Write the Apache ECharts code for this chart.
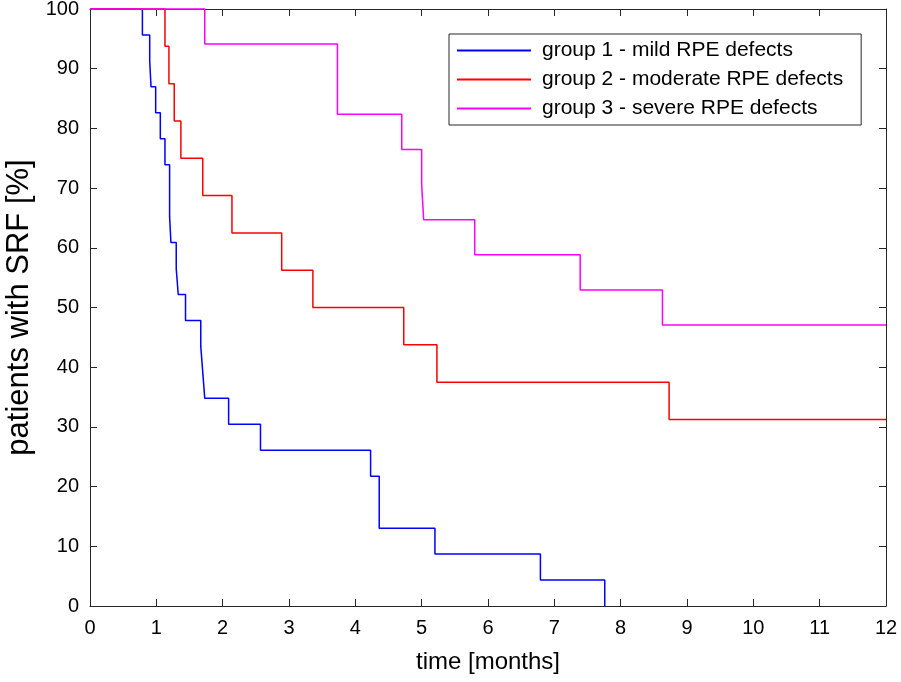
<!DOCTYPE html>
<html>
<head>
<meta charset="utf-8">
<script src="https://cdn.jsdelivr.net/npm/echarts@6/dist/echarts.min.js"></script>
<style>
html,body{margin:0;padding:0;background:#fff;}
#chart{width:901px;height:682px;}
</style>
</head>
<body>
<div id="chart"></div>
<script>
const seriesNames = ['group 1 - mild RPE defects', 'group 2 - moderate RPE defects', 'group 3 - severe RPE defects'];
const group1Times = [0, 0.79, 0.90, 0.92, 0.99, 1.06, 1.13, 1.20, 1.22, 1.30, 1.33, 1.44, 1.67, 1.70, 1.73, 2.09, 2.57, 4.23, 4.36, 5.20, 6.79, 7.76];
const group1Values = [100, 95.65, 91.30, 86.96, 82.61, 78.26, 73.91, 65.22, 60.87, 56.52, 52.17, 47.83, 43.48, 39.13, 34.78, 30.43, 26.09, 21.74, 13.04, 8.70, 4.35, 0];
const group2Times = [0, 1.13, 1.19, 1.27, 1.37, 1.70, 2.14, 2.89, 3.36, 4.73, 5.23, 8.73, 12];
const group2Values = [100, 93.75, 87.5, 81.25, 75, 68.75, 62.5, 56.25, 50, 43.75, 37.5, 31.25, 31.25];
const group3Times = [0, 1.73, 3.73, 4.70, 5.00, 5.03, 5.80, 7.39, 8.63, 12];
const group3Values = [100, 94.12, 82.35, 76.47, 70.59, 64.71, 58.82, 52.94, 47.06, 47.06];
const colors = ['#0000ff', '#ff0000', '#ff00ff'];

function pairs(t, v) { return t.map((x, i) => [x, v[i]]); }

const axisColor = '#262626';
const font = 'Liberation Sans, Arial, sans-serif';

const chart = echarts.init(document.getElementById('chart'));
const groups = [[group1Times, group1Values], [group2Times, group2Values], [group3Times, group3Values]];

chart.setOption({
  animation: false,
  backgroundColor: '#fff',
  grid: { left: 90, right: 15, top: 9, bottom: 76, containLabel: false, outerBoundsMode: 'none' },
  legend: {
    orient: 'vertical',
    left: 449, top: 34,
    data: seriesNames,
    icon: 'rect',
    itemWidth: 74, itemHeight: 2,
    itemGap: 8,
    padding: [6, 18, 6, 8],
    borderColor: axisColor, borderWidth: 1,
    backgroundColor: '#fff',
    textStyle: { fontFamily: font, fontSize: 21, color: '#000', padding: [0, 0, 0, 6] }
  },
  xAxis: [{
    type: 'value', min: 0, max: 12, interval: 1,
    name: 'time [months]', nameLocation: 'middle', nameGap: 44,
    nameTextStyle: { fontFamily: font, fontSize: 24, color: '#000' },
    axisLine: { show: true, onZero: false, lineStyle: { color: axisColor, width: 1 } },
    axisTick: { show: true, inside: true, length: 7, lineStyle: { color: axisColor } },
    axisLabel: { fontFamily: font, fontSize: 20, color: '#000', margin: 12 },
    splitLine: { show: false }
  }, {
    type: 'value', min: 0, max: 12, interval: 1, position: 'top',
    axisLine: { show: true, onZero: false, lineStyle: { color: axisColor, width: 1 } },
    axisTick: { show: true, inside: true, length: 7, lineStyle: { color: axisColor } },
    axisLabel: { show: false }, splitLine: { show: false }
  }],
  yAxis: [{
    type: 'value', min: 0, max: 100, interval: 10,
    name: 'patients with SRF [%]', nameLocation: 'middle', nameGap: 55,
    nameTextStyle: { fontFamily: font, fontSize: 31, color: '#000' },
    axisLine: { show: true, onZero: false, lineStyle: { color: axisColor, width: 1 } },
    axisTick: { show: true, inside: true, length: 7, lineStyle: { color: axisColor } },
    axisLabel: { fontFamily: font, fontSize: 20, color: '#000', margin: 11 },
    splitLine: { show: false }
  }, {
    type: 'value', min: 0, max: 100, interval: 10, position: 'right',
    axisLine: { show: true, onZero: false, lineStyle: { color: axisColor, width: 1 } },
    axisTick: { show: true, inside: true, length: 7, lineStyle: { color: axisColor } },
    axisLabel: { show: false }, splitLine: { show: false }
  }],
  series: groups.map((g, i) => ({
    name: seriesNames[i],
    type: 'line',
    step: 'end',
    data: pairs(g[0], g[1]),
    showSymbol: false,
    symbol: 'none',
    clip: false,
    color: colors[i],
    lineStyle: { color: colors[i], width: 1.5 },
    xAxisIndex: 0, yAxisIndex: 0
  }))
});
</script>
</body>
</html>
